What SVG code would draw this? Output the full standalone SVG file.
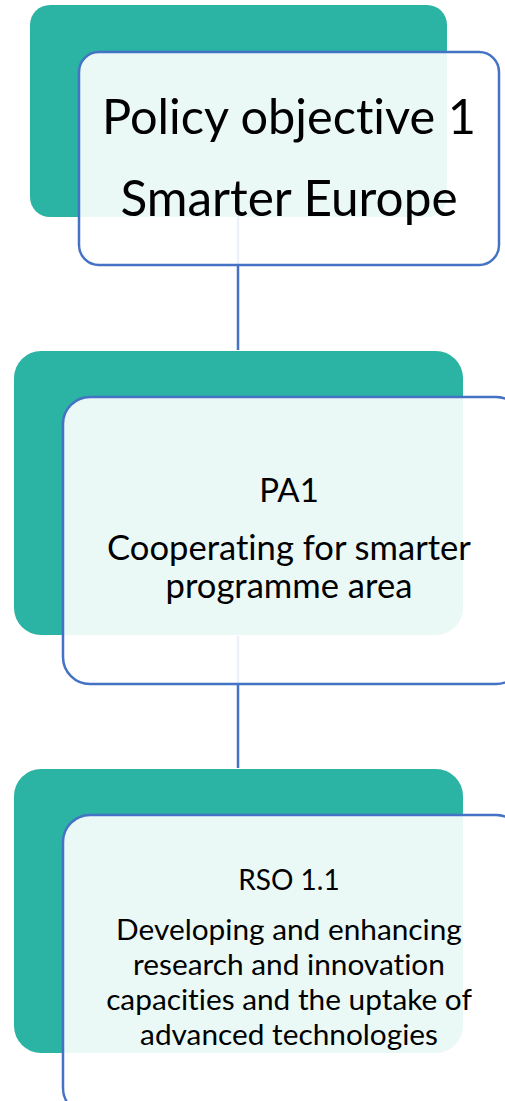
<svg xmlns="http://www.w3.org/2000/svg" width="505" height="1101" viewBox="0 0 505 1101">
<style>
.teal{fill:#2bb3a3}
.card{fill:#ffffff;fill-opacity:0.9;stroke:#4472c4;stroke-width:2.5}
.conn{stroke:#4472c4;stroke-width:2.5;fill:none}
text{font-family:Lato,"Liberation Sans",sans-serif;fill:#000;text-anchor:middle;font-variant-ligatures:none}
</style>
<rect width="505" height="1101" fill="#ffffff"/>
<g id="connectors">
<line class="conn" x1="238" y1="217" x2="238" y2="350"/>
<line class="conn" x1="238" y1="636" x2="238" y2="768"/>
</g>
<g id="node1">
<rect class="teal" x="30" y="5" width="417" height="212" rx="20"/>
<rect class="card" x="79" y="52" width="420" height="213" rx="20"/>
<text x="289" y="134" font-size="48.7">Policy objective 1</text>
<text x="289" y="216" font-size="49.5">Smarter Europe</text>
</g>
<g id="node2">
<rect class="teal" x="14" y="351" width="449" height="284" rx="27"/>
<rect class="card" x="63" y="397" width="460" height="287" rx="27"/>
<text x="289" y="502" font-size="33">PA1</text>
<text x="289" y="560" font-size="34.6">Cooperating for smarter</text>
<text x="289" y="598" font-size="34.6">programme area</text>
</g>
<g id="node3">
<rect class="teal" x="14" y="769" width="449" height="284" rx="27"/>
<rect class="card" x="63" y="815" width="460" height="300" rx="27"/>
<text x="289" y="890" font-size="28">RSO 1.1</text>
<text x="289" y="940" font-size="29.8">Developing and enhancing</text>
<text x="289" y="975" font-size="29.8">research and innovation</text>
<text x="289" y="1010" font-size="29.8">capacities and the uptake of</text>
<text x="289" y="1045" font-size="29.8">advanced technologies</text>
</g>
</svg>
